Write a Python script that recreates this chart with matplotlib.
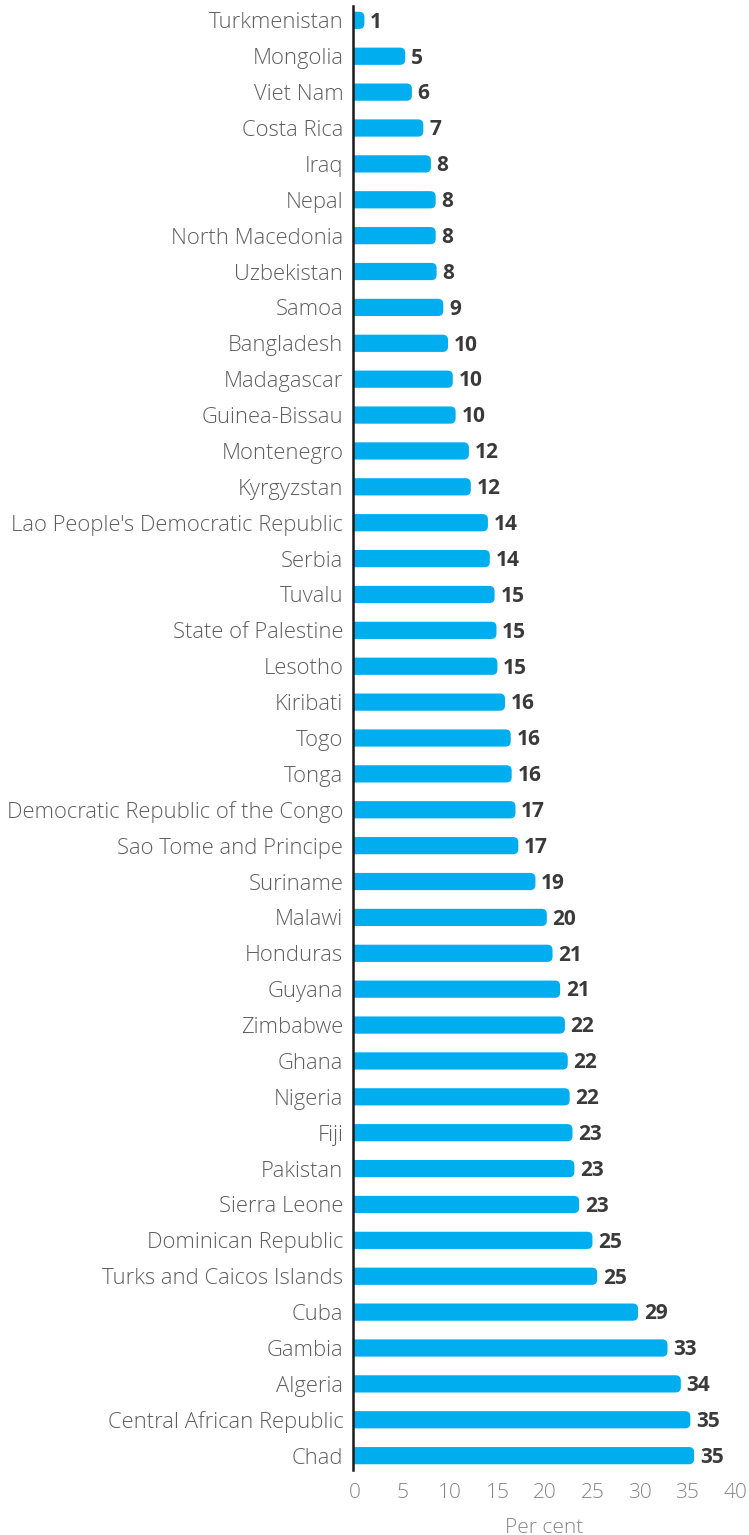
import matplotlib.pyplot as plt
from matplotlib.patches import FancyBboxPatch

countries = [
    "Turkmenistan", "Mongolia", "Viet Nam", "Costa Rica", "Iraq", "Nepal",
    "North Macedonia", "Uzbekistan", "Samoa", "Bangladesh", "Madagascar",
    "Guinea-Bissau", "Montenegro", "Kyrgyzstan", "Lao People's Democratic Republic",
    "Serbia", "Tuvalu", "State of Palestine", "Lesotho", "Kiribati", "Togo",
    "Tonga", "Democratic Republic of the Congo", "Sao Tome and Principe",
    "Suriname", "Malawi", "Honduras", "Guyana", "Zimbabwe", "Ghana", "Nigeria",
    "Fiji", "Pakistan", "Sierra Leone", "Dominican Republic",
    "Turks and Caicos Islands", "Cuba", "Gambia", "Algeria",
    "Central African Republic", "Chad",
]
# estimated bar lengths (unrounded) and the labels shown on the chart
values = [
    1.0, 5.3, 6.0, 7.2, 8.0, 8.5, 8.5, 8.6, 9.3, 9.8, 10.3, 10.6, 12.0, 12.2,
    14.0, 14.2, 14.7, 14.9, 15.0, 15.8, 16.4, 16.5, 16.9, 17.2, 19.0, 20.2,
    20.8, 21.6, 22.1, 22.4, 22.6, 22.9, 23.1, 23.6, 25.0, 25.5, 29.8, 32.9,
    34.3, 35.3, 35.7,
]
labels = [
    1, 5, 6, 7, 8, 8, 8, 8, 9, 10, 10, 10, 12, 12, 14, 14, 15, 15, 15, 16, 16,
    16, 17, 17, 19, 20, 21, 21, 22, 22, 22, 23, 23, 23, 25, 25, 29, 33, 34, 35, 35,
]

BLUE = "#00AEEF"
plt.rcParams["font.family"] = ["Open Sans", "DejaVu Sans"]

fig = plt.figure(figsize=(7.49, 15.35), dpi=100)
ax = fig.add_axes([353 / 749, 1 - 1470 / 1535, (735 - 353) / 749, (1470 - 6) / 1535])

n = len(countries)
ys = [n - 1 - i for i in range(n)]
xmin, xmax = -0.2, 40
ax.set_xlim(xmin, xmax)
ax.set_ylim(-0.4, n - 1 + 0.4)

# px per data unit, used to keep the corner rounding circular
bbox = ax.get_position()
px_x = bbox.width * fig.get_figwidth() * fig.dpi / (xmax - xmin)
px_y = bbox.height * fig.get_figheight() * fig.dpi / (n - 1 + 0.8)
h = 0.48
for y, v, lab in zip(ys, values, labels):
    start = -1.0
    p = FancyBboxPatch((start, y - h / 2), v - start, h,
                       boxstyle="round,pad=0,rounding_size=0.55",
                       mutation_aspect=px_x / px_y,
                       fc=BLUE, ec="none")
    ax.add_patch(p)
    ax.text(v + 0.6, y - 0.05, str(lab), va="center", ha="left",
            fontsize=15, fontweight="bold", color="#3a3a3a")

ax.set_yticks(ys)
ax.set_yticklabels(countries, fontsize=15.8, color="#5e5e5e", fontweight="light")
ax.set_xticks(range(0, 41, 5))
ax.set_xticklabels([str(t) for t in range(0, 41, 5)], fontsize=15,
                   color="#858585", fontweight="light")
ax.tick_params(axis="both", length=0)
ax.tick_params(axis="y", pad=7)
ax.tick_params(axis="x", pad=9)
ax.set_xlabel("Per cent", fontsize=15, color="#858585", fontweight="light",
              labelpad=11)

for s in ["top", "right", "bottom"]:
    ax.spines[s].set_visible(False)
ax.spines["left"].set_linewidth(1.8)
ax.spines["left"].set_color("#1a1a1a")
ax.spines["left"].set_zorder(5)

fig.savefig("out.png", dpi=100)
